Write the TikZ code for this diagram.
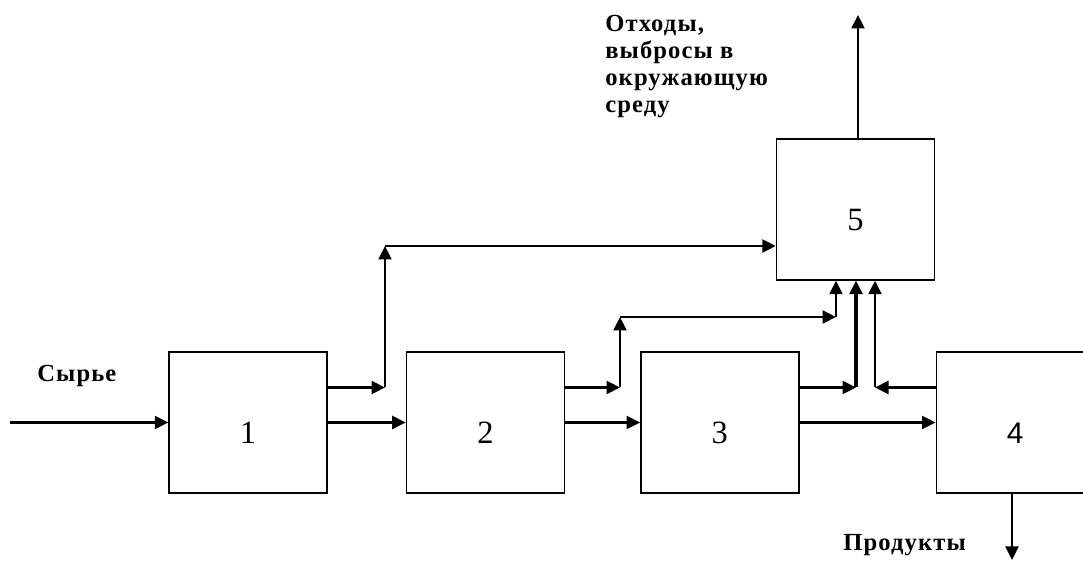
\documentclass[tikz,border=0pt]{standalone}
\usepackage{fontspec}
\setmainfont{Liberation Serif}
\newfontfamily\arialfont{Liberation Sans}
\newfontfamily\spacedfont[LetterSpace=4.5]{Liberation Serif}
\usepackage{tikz}
\usetikzlibrary{arrows.meta, positioning}

\begin{document}
\begin{tikzpicture}[
    block/.style={rectangle, draw, line width=0.8pt, minimum width=3.16cm, minimum height=2.82cm,
                  inner sep=0pt, text height=0.84cm, text depth=0pt, font=\fontsize{18.5}{20}\selectfont},
    flow/.style={line width=1.3pt, -{Triangle[length=0.27cm, width=0.26cm]}},
    caption/.style={inner sep=0pt, align=left, font=\spacedfont\bfseries\fontsize{14}{15.4}\selectfont}
]
    \useasboundingbox (0,0) rectangle (21.66,11.24);

    \node[block] (b1) at (4.96,2.79) {1};
    \node[block, right=1.56cm of b1] (b2) {2};
    \node[block, right=1.50cm of b2] (b3) {3};
    \node[block, right=2.72cm of b3, font=\arialfont\fontsize{17}{19}\selectfont] (b4) {4};
    \node[block] (b5) at (17.11,7.05) {5};

    \node[caption, anchor=base west] (raw) at (0.74,3.60) {Сырье};
    \node[caption, anchor=north west] (waste) at (12.10,10.94) {Отходы,\\выбросы в\\окружающую\\среду};
    \node[caption, anchor=base west] (prod) at (16.86,0.22) {Продукты};

    \coordinate (in) at (0.2,2.79);
    \coordinate (k1) at (7.70,3.49);
    \coordinate (k1t) at (7.70,6.32);
    \coordinate (k2) at (12.40,3.49);
    \coordinate (k2t) at (12.40,4.90);
    \coordinate (k2r) at (16.72,4.90);
    \coordinate (k3) at (17.12,3.49);
    \coordinate (k4) at (17.50,3.49);
    \coordinate (top) at (17.16,10.94);
    \coordinate (bot) at (20.24,0.04);

    \draw[flow] (in) -- (b1.west);
    \draw[flow] (b1.east) -- (b2.west);
    \draw[flow] (b2.east) -- (b3.west);
    \draw[flow] (b3.east) -- (b4.west);

    \draw[flow] (k1 -| b1.east) -- (k1);
    \draw[flow] (k1) -- (k1t);
    \draw[flow] (k1t) -- (k1t -| b5.west);

    \draw[flow] (k2 -| b2.east) -- (k2);
    \draw[flow] (k2) -- (k2t);
    \draw[flow] (k2t) -- (k2r);
    \draw[flow] (k2r) -- (k2r |- b5.south);

    \draw[flow] (k3 -| b3.east) -- (k3);
    \draw[flow, line width=1.8pt] (k3) -- (k3 |- b5.south);
    \draw[flow] (k4 -| b4.west) -- (k4);
    \draw[flow] (k4) -- (k4 |- b5.south);

    \draw[flow] (top |- b5.north) -- (top);
    \draw[flow] (bot |- b4.south) -- (bot);
\end{tikzpicture}
\end{document}
